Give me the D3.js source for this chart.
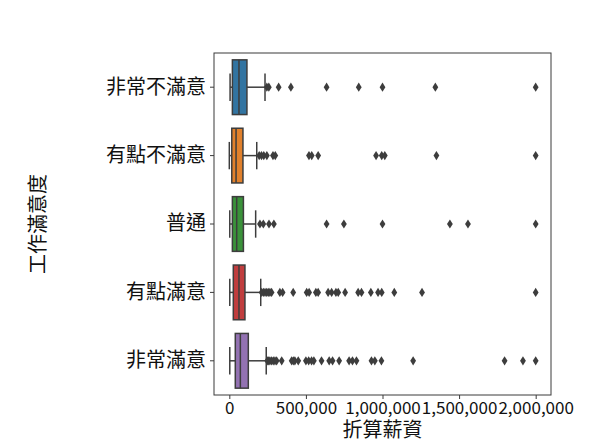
<!DOCTYPE html>
<html>
<head>
<meta charset="utf-8">
<script src="https://cdn.jsdelivr.net/npm/d3@7"></script>
<style>
  html, body { margin: 0; padding: 0; background: #ffffff; }
  svg { display: block; }
  text { font-family: "Noto Sans CJK TC", "Noto Sans", sans-serif; fill: #111; }
</style>
</head>
<body>
<svg id="chart" width="612" height="443"></svg>
<script>
// ---- data ----
const categories = ["非常不滿意", "有點不滿意", "普通", "有點滿意", "非常滿意"];
const colors = ["#3274a1", "#e1812c", "#3a923a", "#c03d3e", "#9372b2"];
const whiskerLow = [5000, 0, 3000, 3000, 3000];
const q1 = [20000, 16000, 20000, 26000, 39000];
const medians = [63000, 44000, 48000, 63000, 72000];
const q3 = [115000, 89000, 92000, 102000, 124000];
const whiskerHigh = [233000, 179000, 172000, 205000, 241000];
const outliers = [
  [245000, 258000, 322000, 402000, 635000, 845000, 1000000, 1345000, 2000000],
  [195000, 210000, 225000, 245000, 285000, 300000, 520000, 538000, 580000, 958000, 995000, 1015000, 1352000, 2000000],
  [200000, 222000, 259000, 291000, 635000, 748000, 1000000, 1440000, 1558000, 2000000],
  [211000, 222000, 233000, 244000, 254000, 265000, 276000, 330000, 348000, 417000, 505000, 521000, 565000, 580000,
   645000, 668000, 696000, 711000, 756000, 841000, 863000, 924000, 971000, 995000, 1077000, 1258000, 2000000],
  [248000, 257000, 265000, 276000, 287000, 298000, 309000, 342000, 407000, 418000, 428000, 450000, 500000, 518000, 537000,
   552000, 602000, 652000, 674000, 717000, 782000, 804000, 830000, 928000, 950000, 993000, 1200000, 1797000, 1917000, 2000000]
];
const xTicks = [0, 500000, 1000000, 1500000, 2000000];
const xLabel = "折算薪資";
const yLabel = "工作滿意度";

(function () {
  const svg = d3.select("#chart");
  const pL = 214, pR = 551, pT = 53, pB = 395;
  const lineColor = "#3d3d3d";

  const x = d3.scaleLinear().domain([-100000, 2100000]).range([pL, pR]);
  const y = d3.scaleBand().domain(categories).range([pT, pB]).paddingInner(0).paddingOuter(0);
  const boxH = y.bandwidth() * 0.8;
  const capH = boxH / 2;

  svg.append("rect").attr("x", 0).attr("y", 0).attr("width", 612).attr("height", 443).attr("fill", "#ffffff");

  const g = svg.append("g");

  categories.forEach((c, i) => {
    const cy = y(c) + y.bandwidth() / 2;
    const grp = g.append("g");
    grp.append("line").attr("x1", x(whiskerLow[i])).attr("x2", x(q1[i])).attr("y1", cy).attr("y2", cy)
      .attr("stroke", lineColor).attr("stroke-width", 1.5);
    grp.append("line").attr("x1", x(q3[i])).attr("x2", x(whiskerHigh[i])).attr("y1", cy).attr("y2", cy)
      .attr("stroke", lineColor).attr("stroke-width", 1.5);
    [whiskerLow[i], whiskerHigh[i]].forEach(v => {
      grp.append("line").attr("x1", x(v)).attr("x2", x(v)).attr("y1", cy - capH / 2).attr("y2", cy + capH / 2)
        .attr("stroke", lineColor).attr("stroke-width", 1.5);
    });
    grp.append("rect").attr("x", x(q1[i])).attr("y", cy - boxH / 2)
      .attr("width", x(q3[i]) - x(q1[i])).attr("height", boxH)
      .attr("fill", colors[i]).attr("stroke", lineColor).attr("stroke-width", 1.5);
    grp.append("line").attr("x1", x(medians[i])).attr("x2", x(medians[i]))
      .attr("y1", cy - boxH / 2).attr("y2", cy + boxH / 2)
      .attr("stroke", lineColor).attr("stroke-width", 1.5);
    grp.selectAll("path.flier").data(outliers[i]).enter().append("path")
      .attr("class", "flier")
      .attr("d", d => {
        const px = x(d), hw = 2.9, hh = 4.6;
        return `M${px},${cy - hh}L${px + hw},${cy}L${px},${cy + hh}L${px - hw},${cy}Z`;
      })
      .attr("fill", lineColor);
  });

  svg.append("rect").attr("x", pL).attr("y", pT).attr("width", pR - pL).attr("height", pB - pT)
    .attr("fill", "none").attr("stroke", "#3a3a3a").attr("stroke-width", 1);

  const xAxis = d3.axisBottom(x).tickValues(xTicks).tickFormat(d3.format(",")).tickSize(4).tickPadding(3);
  const xg = svg.append("g").attr("transform", `translate(0,${pB})`).call(xAxis);
  xg.select(".domain").remove();
  xg.selectAll(".tick line").attr("stroke", "#3a3a3a");
  xg.selectAll(".tick text").attr("font-size", 17).style("font-family", '"Noto Sans CJK TC", sans-serif').attr("fill", "#111");

  const yAxis = d3.axisLeft(y).tickSize(4).tickPadding(4);
  const yg = svg.append("g").attr("transform", `translate(${pL},0)`).call(yAxis);
  yg.select(".domain").remove();
  yg.selectAll(".tick line").attr("stroke", "#3a3a3a");
  yg.selectAll(".tick text").attr("font-size", 20).style("font-family", '"Noto Sans CJK TC", sans-serif').attr("fill", "#111");

  svg.append("text").attr("x", (pL + pR) / 2).attr("y", 436.5).attr("text-anchor", "middle")
    .attr("font-size", 20).text(xLabel);
  svg.append("text").attr("transform", `translate(45,${(pT + pB) / 2}) rotate(-90)`)
    .attr("text-anchor", "middle").attr("font-size", 20).text(yLabel);
})();
</script>
</body>
</html>
